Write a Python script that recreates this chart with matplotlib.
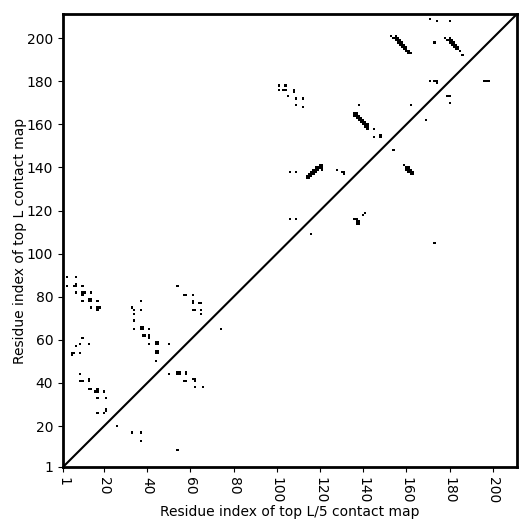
import numpy as np
import matplotlib.pyplot as plt

# sequence length and predicted contacts (residue i on x, residue j on y)
L = 211
res_x = [3, 7, 3, 6, 7, 7, 10, 7, 10, 10, 11, 14, 10, 13, 14, 14, 13, 17, 14, 17, 18, 17,
         37, 33, 34, 37, 34, 34, 34, 37, 38, 38, 37, 41, 38, 39, 41, 41, 41,
         10, 7, 9, 13, 5, 6, 5, 9, 9,
         54, 57, 58, 61, 61, 61, 64, 65, 61, 62, 65, 65,
         44, 45, 44, 45, 50, 44, 45, 45, 44, 44,
         50, 54, 55, 54, 55, 58, 58, 57, 58, 61, 62, 62, 62, 66, 74,
         9, 10, 13, 13, 13, 14, 16, 17, 17, 20, 17, 21, 21, 21, 17, 20, 26,
         33, 37, 37, 54,
         101, 101, 104, 103, 104, 105, 108, 108, 105, 109, 112, 109, 112,
         106, 109, 115, 116, 116, 117, 117, 118, 118, 119, 114, 115, 116, 119, 120,
         121, 121, 121, 120, 106, 109, 116,
         114, 115, 116, 117, 118,
         138, 162, 169, 136, 136, 137, 137, 138, 138, 139, 139, 140, 140, 141, 141, 142,
         137, 138, 139, 140, 141, 145, 145, 148, 148, 154,
         138, 139, 140, 141, 142, 142,
         128, 130, 131, 131,
         159, 160, 160, 161, 161, 162, 162, 163,
         161, 162, 163,
         136, 137, 137, 138, 138, 137, 141, 140,
         171, 174, 180,
         153, 154, 155, 155, 156, 156, 157, 157, 158, 158, 159, 159, 160, 160, 161, 161, 162,
         155, 156, 157, 158, 159, 160,
         156, 157, 158, 159,
         173, 178, 179, 180, 180, 181, 181, 182, 182, 183, 183, 184, 185, 180, 181, 182, 183,
         182, 183, 184,
         186, 171, 173, 174, 174, 196, 197, 198, 179, 180, 180, 173]
res_y = [89, 89, 85, 85, 85, 86, 85, 82, 81, 82, 82, 82, 78, 78, 78, 79, 79, 78, 75, 75, 75, 74,
         78, 75, 74, 74, 72, 69, 65, 65, 65, 66, 66, 65, 62, 62, 62, 61, 58,
         61, 57, 58, 58, 54, 54, 53, 54, 44,
         85, 81, 81, 81, 77, 78, 77, 77, 74, 74, 74, 72,
         58, 58, 59, 59, 58, 54, 54, 55, 55, 50,
         44, 45, 45, 44, 44, 44, 45, 41, 41, 42, 42, 41, 38, 38, 65,
         41, 41, 41, 42, 37, 37, 36, 36, 37, 36, 33, 33, 28, 27, 26, 26, 20,
         17, 17, 13, 9,
         178, 176, 178, 176, 176, 173, 176, 175, 173, 172, 172, 169, 168,
         138, 138, 136, 136, 137, 137, 138, 138, 139, 139, 135, 135, 137, 140, 140,
         139, 140, 141, 141, 116, 116, 109,
         136, 137, 138, 139, 140,
         169, 169, 162, 165, 164, 164, 163, 163, 162, 162, 161, 161, 160, 160, 159, 159,
         165, 164, 163, 162, 161, 158, 154, 155, 154, 148,
         164, 163, 162, 161, 160, 158,
         139, 138, 138, 137,
         141, 140, 139, 139, 138, 138, 137, 137,
         140, 139, 138,
         116, 116, 115, 115, 114, 114, 119, 118,
         209, 208, 208,
         201, 200, 200, 199, 199, 198, 198, 197, 197, 196, 196, 195, 195, 194, 194, 193, 193,
         201, 200, 199, 198, 197, 196,
         200, 199, 198, 197,
         198, 200, 199, 199, 198, 198, 197, 197, 196, 196, 195, 195, 194, 200, 199, 198, 197,
         198, 197, 196,
         192, 180, 180, 180, 179, 180, 180, 180, 173, 173, 170, 105]

cmap_matrix = np.zeros((L, L))
for i, j in zip(res_x, res_y):
    cmap_matrix[j - 1, i - 1] = 1

fig = plt.figure(figsize=(5.31, 5.31), dpi=100)
ax = fig.add_axes([63 / 531, 64 / 531, 454 / 531, 453 / 531])
ax.imshow(cmap_matrix, cmap='Greys', origin='lower', interpolation='nearest',
          extent=(0.5, L + 0.5, 0.5, L + 0.5), aspect='auto', vmin=0, vmax=1)
ax.plot([1, L + 0.2], [1, L + 0.2], color='black', lw=1.5)
ax.set_xlim(1, L + 0.2)
ax.set_ylim(1, L + 0.2)

ticks = [1, 20, 40, 60, 80, 100, 120, 140, 160, 180, 200]
ax.set_xticks(ticks)
ax.set_yticks(ticks)
ax.set_xticklabels([str(t) for t in ticks], rotation=270)
for s in ax.spines.values():
    s.set_linewidth(2)
ax.set_xlabel("Residue index of top L/5 contact map", labelpad=1)
ax.set_ylabel("Residue index of top L contact map", labelpad=0)

fig.savefig("out.png", dpi=100)
